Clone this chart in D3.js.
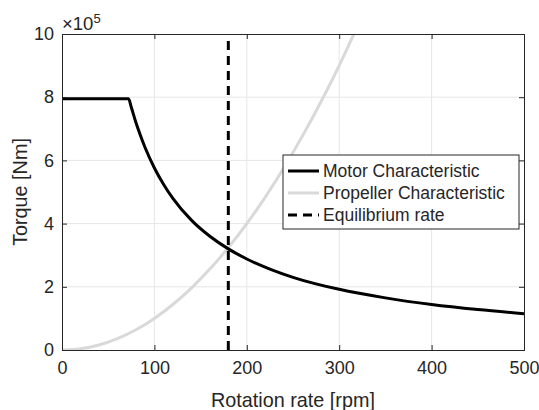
<!DOCTYPE html>
<html>
<head>
<meta charset="utf-8">
<script src="https://cdn.jsdelivr.net/npm/d3@7"></script>
<style>
  body { margin: 0; background: #fff; }
  svg text { font-family: "Liberation Sans", Arial, Helvetica, sans-serif; fill: #262626; }
</style>
</head>
<body>
<div id="chart"></div>
<script>
// rpm / torque (x1e5 Nm)
const motorRpm = [0, 72, 75, 80, 85, 90, 100, 110, 120, 140, 160, 180, 200, 225, 250, 300, 350, 400, 450, 500];
const motorTorque = [7.95, 7.95, 7.68, 7.2, 6.78, 6.4, 5.76, 5.24, 4.8, 4.11, 3.6, 3.2, 2.88, 2.56, 2.3, 1.92, 1.65, 1.44, 1.28, 1.15];

const propRpm = [0, 20, 40, 60, 80, 100, 120, 140, 160, 180, 200, 220, 240, 260, 280, 300, 316, 330];
const propTorque = [0, 0.04, 0.16, 0.36, 0.64, 1.0, 1.44, 1.96, 2.56, 3.24, 4.0, 4.84, 5.76, 6.76, 7.84, 9.0, 10.0, 10.9];

const equilibriumRpm = 180;

const xTicks = [0, 100, 200, 300, 400, 500];
const yTicks = [0, 2, 4, 6, 8, 10];

const legendLabels = ["Motor Characteristic", "Propeller Characteristic", "Equilibrium rate"];

const width = 539, height = 410;
const m = { left: 62, right: 539 - 524, top: 34, bottom: 410 - 350 };
const iw = width - m.left - m.right;
const ih = height - m.top - m.bottom;
const axisColor = "#262626";

const svg = d3.select("#chart").append("svg")
  .attr("width", width).attr("height", height);

svg.append("defs").append("clipPath").attr("id", "plot-clip")
  .append("rect").attr("width", iw).attr("height", ih);

const x = d3.scaleLinear().domain([0, 500]).range([0, iw]);
const y = d3.scaleLinear().domain([0, 10]).range([ih, 0]);

const g = svg.append("g").attr("transform", `translate(${m.left},${m.top})`);

// grid
g.append("g").selectAll("line").data(xTicks.slice(1, -1)).join("line")
  .attr("x1", d => x(d)).attr("x2", d => x(d)).attr("y1", 0).attr("y2", ih)
  .attr("stroke", "#e6e6e6").attr("stroke-width", 1);
g.append("g").selectAll("line").data(yTicks.slice(1, -1)).join("line")
  .attr("y1", d => y(d)).attr("y2", d => y(d)).attr("x1", 0).attr("x2", iw)
  .attr("stroke", "#e6e6e6").attr("stroke-width", 1);

// curves
const plot = g.append("g").attr("clip-path", "url(#plot-clip)");
const line = d3.line().x(d => x(d[0])).y(d => y(d[1])).curve(d3.curveMonotoneX);

plot.append("path")
  .datum(propRpm.map((r, i) => [r, propTorque[i]]))
  .attr("d", line).attr("fill", "none")
  .attr("stroke", "#d9d9d9").attr("stroke-width", 3);

plot.append("path")
  .datum(motorRpm.map((r, i) => [r, motorTorque[i]]))
  .attr("d", line).attr("fill", "none")
  .attr("stroke", "#000").attr("stroke-width", 3).attr("stroke-linejoin", "round");

plot.append("line")
  .attr("x1", x(equilibriumRpm)).attr("x2", x(equilibriumRpm))
  .attr("y1", y(0)).attr("y2", y(10))
  .attr("stroke", "#000").attr("stroke-width", 3).attr("stroke-dasharray", "9,6");

// axes (MATLAB style: ticks inside, box on)
const tickLen = 5;
const xAxis = d3.axisBottom(x).tickValues(xTicks).tickSize(-tickLen).tickPadding(11).tickFormat(d3.format("d"));
const yAxis = d3.axisLeft(y).tickValues(yTicks).tickSize(-tickLen).tickPadding(8).tickFormat(d3.format("d"));

const gx = g.append("g").attr("transform", `translate(0,${ih})`).call(xAxis);
const gy = g.append("g").call(yAxis);
const gxTop = g.append("g").call(d3.axisTop(x).tickValues(xTicks).tickSize(-tickLen).tickFormat(""));
const gyRight = g.append("g").attr("transform", `translate(${iw},0)`).call(d3.axisRight(y).tickValues(yTicks).tickSize(-tickLen).tickFormat(""));

[gx, gy, gxTop, gyRight].forEach(a => {
  a.select(".domain").attr("stroke", axisColor).attr("stroke-width", 1);
  a.selectAll(".tick line").attr("stroke", axisColor);
  a.selectAll("text").attr("font-size", 18).attr("fill", axisColor)
    .attr("font-family", "Liberation Sans, Arial, sans-serif");
});

// exponent label
const expo = svg.append("text").attr("x", m.left).attr("y", 30).attr("font-size", 18.5);
expo.append("tspan").text("\u00d710");
expo.append("tspan").attr("dy", -7.5).attr("font-size", 13).text("5");

// axis labels
svg.append("text")
  .attr("x", m.left + iw / 2).attr("y", 407)
  .attr("text-anchor", "middle").attr("font-size", 19.8)
  .text("Rotation rate [rpm]");

svg.append("text")
  .attr("transform", `translate(27,${m.top + ih / 2}) rotate(-90)`)
  .attr("text-anchor", "middle").attr("font-size", 19.8)
  .text("Torque [Nm]");

// legend
const lg = svg.append("g").attr("transform", "translate(283,155)");
lg.append("rect").attr("width", 236).attr("height", 74)
  .attr("fill", "#fff").attr("stroke", axisColor).attr("stroke-width", 1);
const legendStyles = [
  { color: "#000", dash: null },
  { color: "#d9d9d9", dash: null },
  { color: "#000", dash: "9,6" }
];
legendLabels.forEach((label, i) => {
  const cy = 16 + i * 22;
  lg.append("line").attr("x1", 5).attr("x2", 36).attr("y1", cy).attr("y2", cy)
    .attr("stroke", legendStyles[i].color).attr("stroke-width", 3)
    .attr("stroke-dasharray", legendStyles[i].dash);
  lg.append("text").attr("x", 40).attr("y", cy + 6).attr("font-size", 17.5).text(label);
});
</script>
</body>
</html>
